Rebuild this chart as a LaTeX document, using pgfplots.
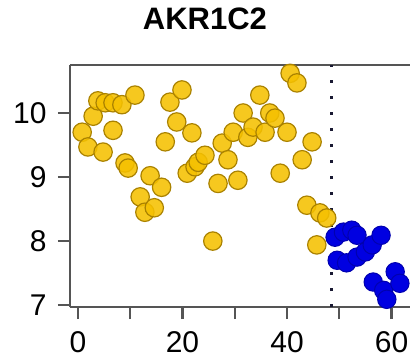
\documentclass[border=0pt]{standalone}
\usepackage{fontspec}
\setmainfont{Liberation Sans}
\usepackage{pgfplots}
\usepackage{pgfplotstable}
\pgfplotsset{compat=1.18}
\definecolor{gold}{RGB}{245,192,0}
\definecolor{golddark}{RGB}{170,130,0}
\definecolor{myblue}{RGB}{0,0,225}
\definecolor{myblued}{RGB}{0,0,175}
\definecolor{axisgray}{RGB}{85,85,85}
\definecolor{dotc}{RGB}{25,25,50}
\pgfplotstableread{
x y
0.8 9.70
1.9 9.47
2.9 9.95
3.8 10.19
4.8 9.39
5.2 10.16
6.7 10.16
6.7 9.73
8.4 10.13
9.0 9.22
9.6 9.14
10.9 10.28
11.9 8.69
12.8 8.45
13.8 9.02
14.6 8.52
16.0 8.84
16.7 9.55
17.6 10.17
18.9 9.86
19.9 10.36
20.9 9.06
21.8 9.69
22.4 9.16
23.0 9.23
24.3 9.34
25.8 8.00
26.8 8.90
27.6 9.53
28.7 9.27
29.7 9.70
30.6 8.95
31.6 10.00
32.5 9.62
33.5 9.78
34.8 10.28
35.8 9.70
36.7 10.00
37.7 9.92
38.7 9.06
40.0 9.70
40.6 10.62
41.9 10.47
42.9 9.27
43.8 8.56
44.8 9.55
45.7 7.94
46.3 8.44
47.6 8.36
}\goldtab
\pgfplotstableread{
x y
49.2 8.06
49.6 7.70
50.8 8.14
51.4 7.66
52.4 8.17
53.4 8.09
53.4 7.75
55.0 7.83
56.3 7.94
56.5 7.36
58.0 8.09
58.5 7.23
59.1 7.09
60.7 7.52
61.6 7.34
}\bluetab
\begin{document}
\fontsize{15pt}{18pt}\selectfont
\begin{tikzpicture}
\begin{axis}[
  at={(0,0)}, anchor=south west,
  scale only axis, width=170pt, height=121pt,
  xmin=-1.53, xmax=63.54, ymin=6.97, ymax=10.75,
  axis x line*=box, axis y line*=left,
  axis line style={-, axisgray, line width=1.2pt},
  xtick pos=bottom, ytick pos=left,
  xtick={0,10,20,30,40,50,60},
  xticklabels={0,,20,,40,,60},
  ytick={7,8,9,10},
  tick align=outside,
  major tick length=6pt,
  tick style={axisgray, line width=1.1pt},
  /pgf/number format/assume math mode=true,
  every tick label/.append style={inner sep=0pt, font=\fontsize{15pt}{18pt}\selectfont},
  yticklabel style={xshift=-5.5pt},
  xticklabel style={yshift=-6.3pt},
  title={\bfseries AKR1C2},
  title style={at={(0.397,1)}, anchor=base, yshift=11.5pt, inner sep=0pt, font=\fontsize{15.5pt}{18pt}\selectfont},
  clip=false,
]
\addplot[dotc, line width=1.5pt, dash pattern=on 1.3pt off 6.7pt] coordinates {(48.5,6.97) (48.5,10.75)};
\addplot[only marks, mark=*, mark size=4.6pt, mark options={fill=gold, draw=golddark, line width=0.6pt, fill opacity=0.88}] table[x=x,y=y] {\goldtab};
\addplot[only marks, mark=*, mark size=4.6pt, mark options={fill=myblue, draw=myblued, line width=0.5pt}] table[x=x,y=y] {\bluetab};
\end{axis}
\pgfresetboundingbox
\useasboundingbox (-35pt,-25.5pt) rectangle (170pt,153.5pt);
\end{tikzpicture}
\end{document}
